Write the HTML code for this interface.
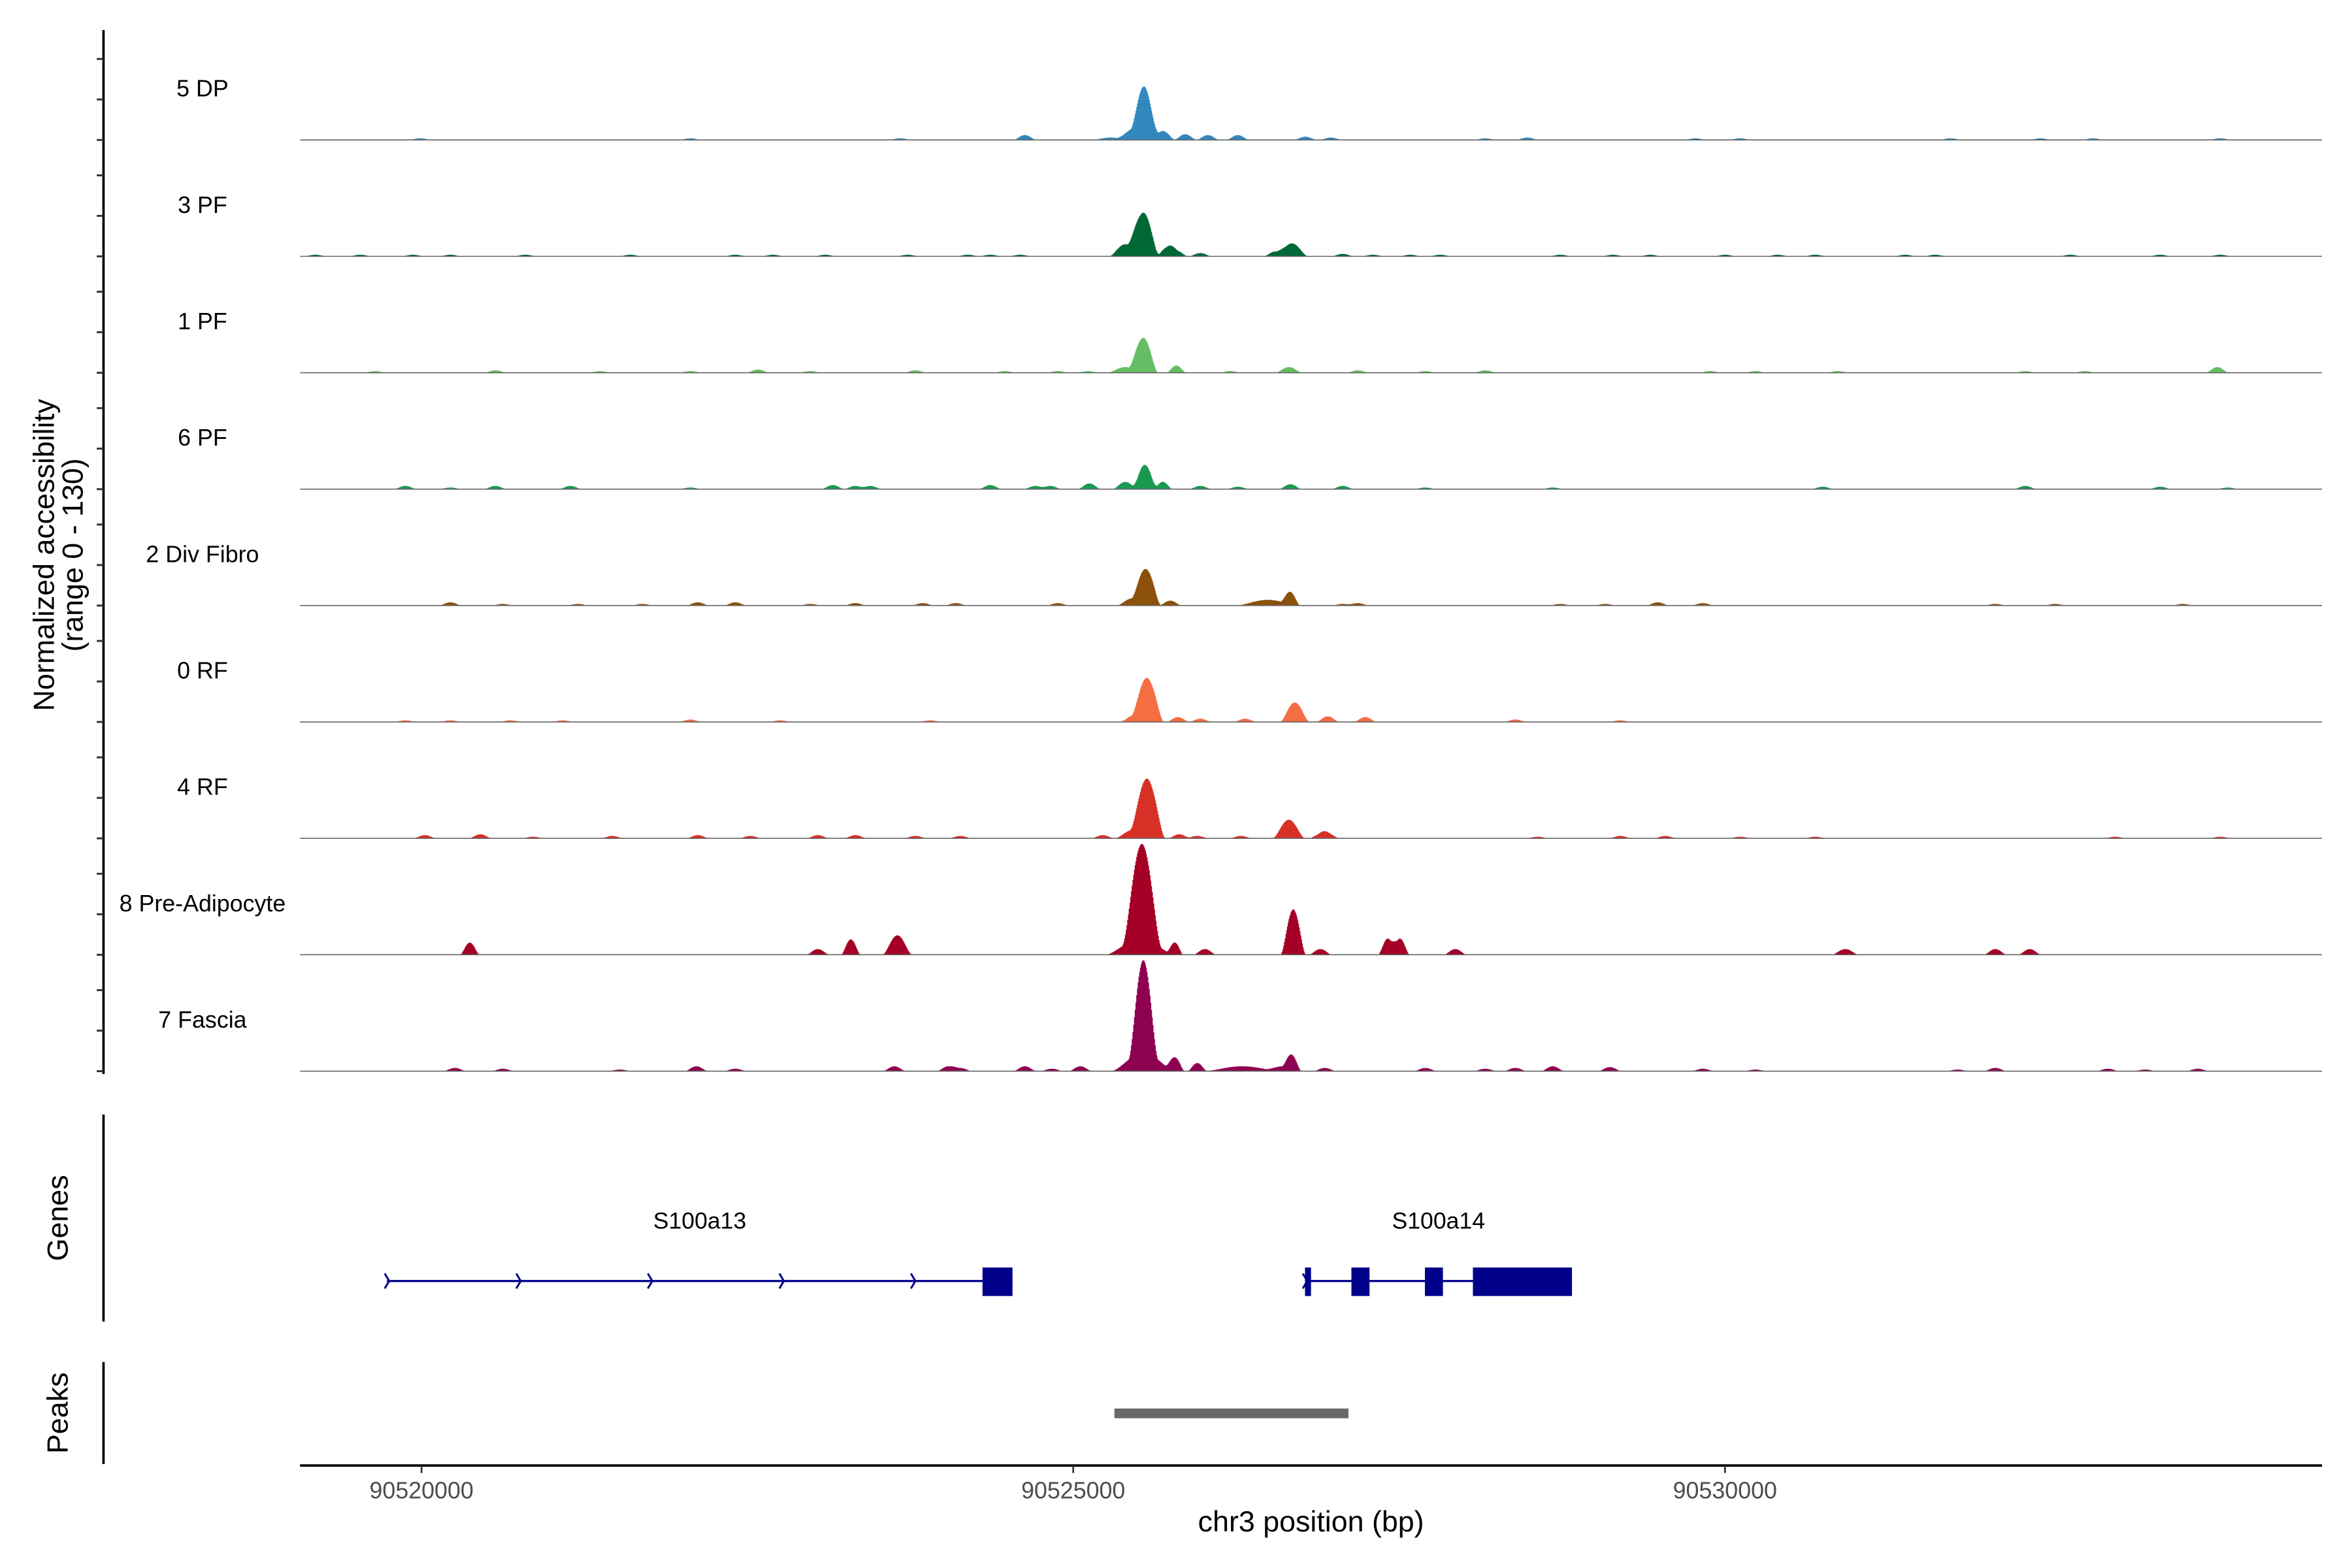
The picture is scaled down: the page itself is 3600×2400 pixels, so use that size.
<!DOCTYPE html>
<html><head><meta charset="utf-8"><style>
html,body{margin:0;padding:0;background:#fff;}
svg{display:block;font-family:"Liberation Sans",Arial,sans-serif;}
</style></head><body>
<svg id="chart" width="3600" height="2400" viewBox="0 0 1568 1045.33" preserveAspectRatio="none" xmlns="http://www.w3.org/2000/svg">
<rect x="0" y="0" width="1568" height="1045.33" fill="#fff"/>
<g id="tracks"></g>
<g id="leftaxis"></g>
<text transform="translate(36,370) rotate(-90)" text-anchor="middle" font-size="19.5" fill="#000">Normalized accessibility</text>
<text transform="translate(55,370) rotate(-90)" text-anchor="middle" font-size="19.5" fill="#000">(range 0 - 130)</text>
<line x1="69" y1="743" x2="69" y2="881" stroke="#000" stroke-width="1.6"/>
<text transform="translate(45,812) rotate(-90)" text-anchor="middle" font-size="19.5">Genes</text>
<line x1="69" y1="908" x2="69" y2="976" stroke="#000" stroke-width="1.6"/>
<text transform="translate(45,942) rotate(-90)" text-anchor="middle" font-size="19.5">Peaks</text>
<g id="genes"></g>
<g id="peaks"></g>
<g id="xaxis"></g>
<text x="874" y="1021" text-anchor="middle" font-size="19.5">chr3 position (bp)</text>
</svg>
<script>
const trackNames = ["5 DP","3 PF","1 PF","6 PF","2 Div Fibro","0 RF","4 RF","8 Pre-Adipocyte","7 Fascia"];
const trackColors = ["#3288bd","#006837","#66bd63","#1a9850","#8c510a","#f46d43","#d73027","#a50026","#8e0152"];
const xTicks = [90520000, 90525000, 90530000];
const xTickLabels = ["90520000","90525000","90530000"];
// per-track signal bumps: position (bp), value (normalized), half-width (bp)
const pos0 = [90525546,90525477,90525684,90525857,90526030,90526260,90524626,90525282,90526778,90526973,90528481,90519988,90522060,90523671,90531726,90532416,90532819,90533797,90528158,90529769,90530114];
const val0 = [56,15,11,7,6,6,6,3,4,3,3,2,2,2,2,2,2,2,2,2,2];
const wid0 = [100,140,90,90,80,60,60,140,70,60,90,50,40,40,60,50,50,50,50,50,50];
const pos1 = [90525535,90525397,90525719,90525788,90525972,90526674,90526547,90527065,90527296,90527813,90519183,90519528,90519931,90520219,90520794,90521599,90522405,90522693,90523095,90523728,90524189,90524361,90524591,90527583,90528734,90529137,90529424,90529999,90530402,90530690,90531380,90531610,90532646,90533336,90533797];
const val1 = [54,15,11,7,4,16,6,3,2,2,2,2,2,2,2,2,2,2,2,2,2,2,2,2,2,2,2,2,2,2,2,2,2,2,2];
const wid1 = [115,115,80,70,70,115,70,60,50,50,50,50,50,50,50,50,50,50,50,50,50,50,50,50,50,50,50,50,50,50,50,50,50,50,50];
const pos2 = [90525535,90525397,90525788,90526651,90533774,90519643,90520564,90521369,90522060,90522578,90522980,90523786,90524476,90524879,90525109,90526202,90527180,90527698,90528158,90529884,90530230,90530863,90532301,90532761];
const val2 = [43,7,9,7,7,2,3,2,2,4,2,3,2,2,2,2,3,2,3,2,2,2,2,2];
const wid2 = [105,140,70,105,70,60,60,60,60,60,60,60,60,60,60,60,60,60,60,60,60,60,60,60];
const pos3 = [90525546,90525397,90525684,90525121,90526663,90519873,90520219,90520564,90521139,90522060,90523153,90523326,90523441,90524361,90524706,90524821,90525972,90526260,90527065,90527698,90528676,90530747,90532301,90533336,90533854];
const val3 = [30,9,9,7,6,4,2,4,4,2,5,4,4,5,4,4,4,3,4,2,2,3,4,3,2];
const wid3 = [90,90,70,70,90,70,70,70,70,70,70,70,70,70,70,70,70,70,70,70,70,70,70,70,70];
const pos4 = [90525558,90525454,90525742,90526663,90526490,90520219,90520621,90521197,90521692,90522117,90522405,90522980,90523326,90523843,90524096,90524879,90527065,90527180,90528734,90529079,90529482,90529827,90532071,90532531,90533509];
const val4 = [44,9,6,15,7,4,2,2,2,4,4,2,3,3,3,3,2,3,2,2,4,3,2,2,2];
const wid4 = [105,115,70,70,250,70,70,70,70,70,70,70,70,70,70,70,70,70,70,70,70,70,70,70,70];
const pos5 = [90525569,90525477,90525800,90525972,90526317,90526697,90526950,90527238,90519873,90520679,90521082,90522060,90528389,90529194,90520219,90522750,90523901];
const val5 = [52,9,6,4,4,24,7,6,2,2,2,3,3,2,2,2,2];
const wid5 = [115,115,70,60,60,105,60,60,60,60,60,60,60,60,60,60,60];
const pos6 = [90525569,90525466,90525811,90525949,90526283,90526651,90526893,90526950,90525224,90520023,90520449,90520852,90521461,90522117,90522520,90523038,90523326,90523786,90524131,90528561,90529194,90529539,90530114,90530690,90532991,90533797];
const val6 = [70,11,5,3,3,23,5,6,4,4,5,2,3,4,3,4,4,3,3,2,3,3,2,2,2,2];
const wid6 = [125,140,70,60,70,115,60,50,70,70,70,70,70,70,70,70,70,70,70,70,70,70,70,70,70,70];
const pos7 = [90525524,90525512,90525777,90526007,90526685,90526893,90527411,90527503,90527928,90520368,90523038,90523291,90523648,90530920,90532071,90532335];
const val7 = [118,19,15,7,56,7,20,20,7,15,7,19,24,7,7,7];
const wid7 = [140,250,60,60,90,60,70,70,50,70,50,70,105,105,50,50];
const pos8 = [90525535,90525535,90525777,90525949,90526294,90526674,90526605,90526927,90525052,90524833,90520253,90520621,90521519,90522106,90522405,90523625,90524039,90524131,90524626,90527698,90528158,90528389,90528676,90529114,90529827,90530230,90531783,90532071,90532934,90533221,90533624];
const val8 = [115,22,17,10,6,17,6,4,6,3,4,3,2,6,3,6,6,4,6,4,3,4,6,5,3,2,2,4,3,2,3];
const wid8 = [105,230,70,70,300,70,140,70,70,60,70,70,70,70,70,70,70,70,70,70,70,70,70,70,70,70,70,70,70,70,70];
const geneNames = ["S100a13","S100a14"];
const geneStarts = [90519735, 90526778];
const geneEnds = [90524534, 90528826];
const exonStarts = [[90524304],[90526778,90527134,90527698,90528066]];
const exonEnds = [[90524534],[90526824,90527273,90527836,90528826]];
const peakStarts = [90525316];
const peakEnds = [90527111];

const NS="http://www.w3.org/2000/svg";
const X0=200, X1=1548;
function xScale(bp){ return 281 + (bp-90520000)*0.0869; }
const BASE0=93.3, TRACK_STEP=77.6;
function yScale(v, base){ return base - v*27/50; }
function mk(tag, attrs, parent){ const e=document.createElementNS(NS,tag); for(const k in attrs) e.setAttribute(k, attrs[k]); parent.appendChild(e); return e; }

const allPos=[pos0,pos1,pos2,pos3,pos4,pos5,pos6,pos7,pos8];
const allVal=[val0,val1,val2,val3,val4,val5,val6,val7,val8];
const allWid=[wid0,wid1,wid2,wid3,wid4,wid5,wid6,wid7,wid8];
const tracksG=document.getElementById('tracks');
const axG=document.getElementById('leftaxis');
const ax=mk('line',{x1:69,y1:20,x2:69,y2:716,stroke:'#000','stroke-width':1.6},axG);


for(let t=0;t<trackNames.length;t++){
  const base=BASE0+t*TRACK_STEP;
  const g=mk('g',{},tracksG);
  
  
  const P=allPos[t],V=allVal[t],W=allWid[t];
  let d='M'+X0+','+base;
  for(let x=X0;x<=X1;x+=0.5){
    const bp=90520000+(x-281)/0.0869;
    let v=0;
    for(let i=0;i<P.length;i++){
      const w = V[i]<=7 ? Math.max(W[i],90) : W[i]*1.1;
      const r=Math.abs(bp-P[i])/w;
      if(r<1){ const q=1-r*r; v+=V[i]*q*q; }
    }
    const y=yScale(v,base).toFixed(2);
    d+='L'+x+','+y+'L'+(x+0.5)+','+y;
  }
  d+='L'+X1+','+base+'Z';
  const area=mk('path',{d:d,fill:trackColors[t]},g);
  
  
  const bl=mk('line',{x1:X0,y1:base,x2:X1,y2:base,stroke:'#666','stroke-width':0.7},g);
  
  
  const lab=mk('text',{x:135,y:base-29,'text-anchor':'middle','font-size':15.6,fill:'#000'},g);
  lab.textContent=trackNames[t];
  
  
  for(const v of [0,50,100]){
    const ty=yScale(v,base);
    const tk=mk('line',{x1:64.5,y1:ty,x2:69,y2:ty,stroke:'#333','stroke-width':1.3},axG);
    
    
  }
}
// genes
const genesG=document.getElementById('genes');
const GY=854;
for(let i=0;i<geneNames.length;i++){
  const g=mk('g',{},genesG);
  
  
  const xs=xScale(geneStarts[i]), xe=xScale(geneEnds[i]);
  const ln=mk('line',{x1:xs,y1:GY,x2:xe,y2:GY,stroke:'#00008b','stroke-width':1.4},g);
  
  
  for(let ax2=xs; ax2<xe-20; ax2+=87.7){
    const ch=mk('path',{d:'M'+(ax2-1.5)+','+(GY-5)+'L'+(ax2+1.5)+','+GY+'L'+(ax2-1.5)+','+(GY+5),fill:'none',stroke:'#00008b','stroke-width':1.3},g);
    
    
  }
  for(let j=0;j<exonStarts[i].length;j++){
    const a=xScale(exonStarts[i][j]), b=xScale(exonEnds[i][j]);
    const r=mk('rect',{x:a,y:845,width:Math.max(b-a,3),height:19,fill:'#00008b'},g);
    
    
  }
  const lab=mk('text',{x:(xs+xe)/2,y:819,'text-anchor':'middle','font-size':15.5,fill:'#000'},g);
  lab.textContent=geneNames[i];
  
  
}
// peaks
const peaksG=document.getElementById('peaks');
for(let i=0;i<peakStarts.length;i++){
  const a=xScale(peakStarts[i]), b=xScale(peakEnds[i]);
  const r=mk('rect',{x:a,y:939,width:b-a,height:6.5,fill:'#696969'},peaksG);
  
  
}
// x axis
const xG=document.getElementById('xaxis');
const xl=mk('line',{x1:X0,y1:977,x2:X1,y2:977,stroke:'#000','stroke-width':1.6},xG);


for(let i=0;i<xTicks.length;i++){
  const x=xScale(xTicks[i]);
  const tk=mk('line',{x1:x,y1:977,x2:x,y2:982,stroke:'#333','stroke-width':1.2},xG);
  
  
  const tl=mk('text',{x:x,y:999,'text-anchor':'middle','font-size':15.6,fill:'#4d4d4d'},xG);
  tl.textContent=xTickLabels[i];
  
  
}
</script>
</body></html>
